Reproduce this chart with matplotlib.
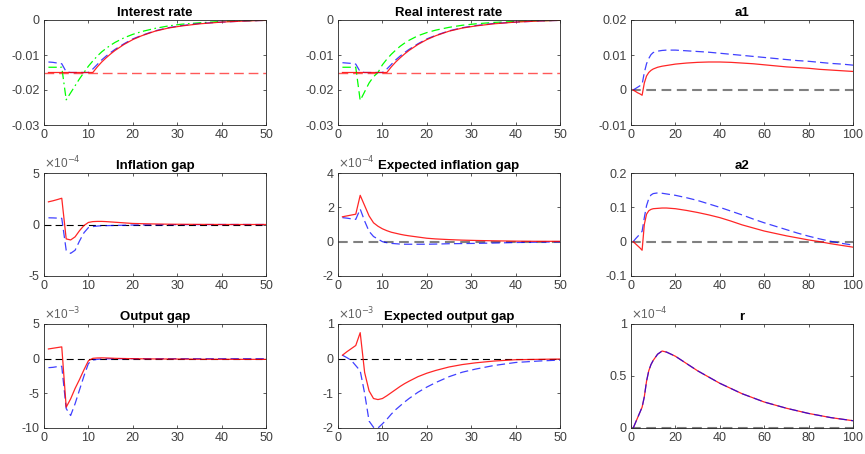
import matplotlib
matplotlib.use("Agg")
import matplotlib.pyplot as plt
import numpy as np

plt.rcParams['font.family'] = ['Liberation Sans', 'DejaVu Sans']
plt.rcParams['axes.unicode_minus'] = False
plt.rcParams['lines.scale_dashes'] = False

# horizon points for the 50-period panels
t50 = [1, 2, 3, 4, 5, 6, 7, 8, 9, 10, 11, 12, 13, 14, 15, 16, 18, 20, 22, 25, 28, 31, 35, 40, 45, 50]
# horizon points for the 100-period panels
t100 = [1, 2, 3, 4, 5, 6, 7, 8, 9, 10, 12, 14, 16, 18, 20, 25, 30, 35, 40, 45, 50, 55, 60, 65, 70, 75, 80, 85, 90, 95, 100]

zlb = -0.015

# Interest rate
ir_red = [-0.015, -0.015, -0.015, -0.015, -0.015, -0.015, -0.015, -0.015, -0.015, -0.015, -0.015,
          -0.0134, -0.0120, -0.0108, -0.0097, -0.0087, -0.0070, -0.0056, -0.0045, -0.0032, -0.0023,
          -0.0017, -0.0011, -0.0006, -0.0003, -0.0001]
ir_blue = [-0.0120, -0.0121, -0.0123, -0.0125, -0.0148, -0.015, -0.015, -0.015, -0.015, -0.015, -0.0140,
           -0.0127, -0.0114, -0.0103, -0.0093, -0.0084, -0.0068, -0.0054, -0.0044, -0.0031, -0.0022,
           -0.0016, -0.0010, -0.0006, -0.0003, -0.0001]
ir_green = [-0.0135, -0.0135, -0.0135, -0.0135, -0.0228, -0.0208, -0.0188, -0.0168, -0.0150, -0.0132,
            -0.0117, -0.0103, -0.0091, -0.0081, -0.0072, -0.0064, -0.0051, -0.0041, -0.0033, -0.0024,
            -0.0017, -0.0012, -0.0008, -0.0004, -0.0002, -0.0001]

# Real interest rate
rr_red = ir_red
rr_blue = [-0.0122, -0.0123, -0.0124, -0.0126, -0.0148, -0.015, -0.015, -0.015, -0.015, -0.015, -0.0140,
           -0.0127, -0.0114, -0.0103, -0.0093, -0.0084, -0.0068, -0.0054, -0.0044, -0.0031, -0.0022,
           -0.0016, -0.0010, -0.0006, -0.0003, -0.0001]
rr_green = [-0.0135, -0.0135, -0.0135, -0.0135, -0.0230, -0.0205, -0.0180, -0.0162, -0.0150, -0.0128,
            -0.0112, -0.0098, -0.0086, -0.0075, -0.0066, -0.0058, -0.0045, -0.0036, -0.0029, -0.0021,
            -0.0015, -0.0011, -0.0007, -0.0004, -0.0002, -0.0001]

# a1
a1_red = [0.0, -0.0004, -0.0008, -0.0011, -0.0015, 0.0020, 0.0040, 0.0050, 0.0056, 0.0060, 0.0065,
          0.0068, 0.0070, 0.0072, 0.0074, 0.0077, 0.0079, 0.0080, 0.0080, 0.0079, 0.0077, 0.0075,
          0.0072, 0.0069, 0.0066, 0.0064, 0.0062, 0.0059, 0.0057, 0.0055, 0.0053]
a1_blue = [0.0, 0.0004, 0.0008, 0.0012, 0.0016, 0.0050, 0.0075, 0.0090, 0.0101, 0.0107, 0.0111,
           0.0113, 0.0114, 0.0114, 0.0114, 0.0112, 0.0110, 0.0108, 0.0105, 0.0102, 0.0099, 0.0096,
           0.0093, 0.0090, 0.0087, 0.0084, 0.0082, 0.0079, 0.0076, 0.0074, 0.0071]

# a2
a2_red = [0.0, -0.006, -0.012, -0.018, -0.025, 0.050, 0.080, 0.090, 0.094, 0.096, 0.097, 0.098,
          0.098, 0.097, 0.096, 0.091, 0.085, 0.078, 0.070, 0.060, 0.049, 0.040, 0.031, 0.024, 0.017,
          0.011, 0.005, 0.000, -0.006, -0.011, -0.016]
a2_blue = [0.0, 0.008, 0.015, 0.022, 0.030, 0.070, 0.105, 0.125, 0.136, 0.140, 0.142, 0.141, 0.139,
           0.137, 0.135, 0.128, 0.120, 0.110, 0.100, 0.089, 0.078, 0.066, 0.055, 0.045, 0.035, 0.025,
           0.016, 0.008, 0.001, -0.005, -0.010]

# Inflation gap (x 1e-4)
pi_red = [2.20, 2.30, 2.42, 2.55, -1.40, -1.50, -1.20, -0.60, -0.10, 0.20, 0.28, 0.30, 0.30, 0.28,
          0.25, 0.22, 0.16, 0.10, 0.08, 0.05, 0.03, 0.02, 0.01, 0.0, 0.0, 0.0]
pi_blue = [0.65, 0.64, 0.62, 0.60, -2.50, -2.80, -2.50, -1.60, -0.80, -0.30, -0.20, -0.15, -0.12,
           -0.11, -0.10, -0.09, -0.07, -0.05, -0.04, -0.03, -0.02, -0.01, -0.01, 0.0, 0.0, 0.0]

# Expected inflation gap (x 1e-4)
epi_red = [1.45, 1.50, 1.55, 1.60, 2.70, 2.10, 1.50, 1.10, 0.90, 0.75, 0.64, 0.55, 0.49, 0.43, 0.38,
           0.34, 0.27, 0.20, 0.16, 0.12, 0.09, 0.07, 0.05, 0.03, 0.02, 0.02]
epi_blue = [1.40, 1.37, 1.33, 1.30, 1.90, 1.20, 0.60, 0.30, 0.15, 0.00, -0.06, -0.10, -0.12, -0.14,
            -0.15, -0.15, -0.15, -0.15, -0.14, -0.12, -0.11, -0.10, -0.08, -0.05, -0.03, -0.01]

# Output gap (x 1e-3)
y_red = [1.40, 1.50, 1.60, 1.70, -7.00, -5.80, -4.30, -3.00, -1.60, -0.30, 0.05, 0.10, 0.12, 0.10,
         0.08, 0.05, 0.02, 0.0, -0.02, -0.04, -0.05, -0.06, -0.08, -0.09, -0.10, -0.10]
y_blue = [-1.30, -1.25, -1.15, -1.10, -7.20, -8.20, -6.50, -4.50, -2.50, -0.70, -0.20, -0.10, -0.05,
          -0.03, -0.02, -0.01, 0.0, 0.0, 0.0, 0.0, 0.0, 0.0, 0.0, 0.0, 0.0, 0.0]

# Expected output gap (x 1e-3)
ey_red = [0.10, 0.20, 0.29, 0.38, 0.75, -0.40, -0.93, -1.15, -1.18, -1.15, -1.07, -0.98, -0.89,
          -0.80, -0.72, -0.65, -0.52, -0.42, -0.34, -0.24, -0.17, -0.12, -0.07, -0.03, -0.02, -0.01]
ey_blue = [0.10, 0.03, -0.05, -0.20, -0.35, -1.00, -1.80, -1.98, -2.00, -1.88, -1.75, -1.60, -1.47,
           -1.36, -1.25, -1.15, -0.97, -0.82, -0.69, -0.52, -0.39, -0.30, -0.20, -0.11, -0.07, -0.04]

# r (x 1e-4)
r_red = [0.0, 0.05, 0.10, 0.15, 0.20, 0.30, 0.45, 0.55, 0.61, 0.65, 0.71, 0.74, 0.73, 0.71, 0.69,
         0.62, 0.55, 0.49, 0.43, 0.38, 0.33, 0.29, 0.25, 0.22, 0.19, 0.165, 0.14, 0.12, 0.10, 0.085, 0.07]
r_blue = r_red

W, H = 865, 454
fig = plt.figure(figsize=(W / 100, H / 100), dpi=100)

cols = [(44, 266), (338, 560), (631, 853)]
rows = [(20, 125), (173, 276), (324, 428)]

TXT = '#404040'


def make_ax(r, c, xlim, xticks, ylim, yticks, ylabels, title, expo=None):
    x0, x1 = cols[c]
    y0, y1 = rows[r]
    ax = fig.add_axes([x0 / W, 1 - y1 / H, (x1 - x0) / W, (y1 - y0) / H])
    ax.set_xlim(*xlim)
    ax.set_ylim(*ylim)
    ax.set_xticks(xticks)
    ax.set_xticklabels([str(v) for v in xticks])
    ax.set_yticks(yticks)
    ax.set_yticklabels(ylabels)
    ax.tick_params(direction='in', length=2.5, width=0.6, colors=TXT, labelsize=9,
                   top=True, right=True, pad=3)
    for s in ax.spines.values():
        s.set_color('#262626')
        s.set_linewidth(0.6)
    ax.set_title(title, fontsize=9.5, fontweight='bold', pad=3, color='black')
    if expo is not None:
        ax.text(0.0, 1.015, r'$\times$10$^{%d}$' % expo, transform=ax.transAxes,
                fontsize=8.5, color='#606060', ha='left', va='bottom')
    return ax


RED = (1, 0, 0)
BLUE = (0, 0, 1)
GREEN = (0, 1, 0)
LW = 0.9
DASH = (6, 3)

# Interest rate
ax = make_ax(0, 0, (0, 50), [0, 10, 20, 30, 40, 50], (-0.03, 0), [-0.03, -0.02, -0.01, 0],
             ['-0.03', '-0.02', '-0.01', '0'], 'Interest rate')
ax.axhline(zlb, color=(1, 0.35, 0.35), lw=1.0, dashes=(7, 3.5))
ax.plot(t50, ir_green, color=GREEN, lw=LW, dashes=(6, 2.5, 1.2, 2.5))
ax.plot(t50, ir_blue, color=BLUE, lw=LW, dashes=DASH, alpha=0.75)
ax.plot(t50, ir_red, color=RED, lw=LW, alpha=0.85)

# Real interest rate
ax = make_ax(0, 1, (0, 50), [0, 10, 20, 30, 40, 50], (-0.03, 0), [-0.03, -0.02, -0.01, 0],
             ['-0.03', '-0.02', '-0.01', '0'], 'Real interest rate')
ax.axhline(zlb, color=(1, 0.35, 0.35), lw=1.0, dashes=(7, 3.5))
ax.plot(t50, rr_green, color=GREEN, lw=LW, dashes=DASH)
ax.plot(t50, rr_blue, color=BLUE, lw=LW, dashes=DASH, alpha=0.75)
ax.plot(t50, rr_red, color=RED, lw=LW, alpha=0.85)

# a1
ax = make_ax(0, 2, (0, 100), [0, 20, 40, 60, 80, 100], (-0.01, 0.02), [-0.01, 0, 0.01, 0.02],
             ['-0.01', '0', '0.01', '0.02'], 'a1')
ax.axhline(0, color='#808080', lw=1.5, dashes=(7, 4))
ax.plot(t100, a1_blue, color=BLUE, lw=LW, dashes=DASH, alpha=0.75)
ax.plot(t100, a1_red, color=RED, lw=LW, alpha=0.85)

# Inflation gap
ax = make_ax(1, 0, (0, 50), [0, 10, 20, 30, 40, 50], (-5, 5), [-5, 0, 5],
             ['-5', '0', '5'], 'Inflation gap', expo=-4)
ax.axhline(0, color='black', lw=0.8, dashes=(5, 3))
ax.plot(t50, pi_blue, color=BLUE, lw=LW, dashes=DASH, alpha=0.75)
ax.plot(t50, pi_red, color=RED, lw=LW, alpha=0.85)

# Expected inflation gap
ax = make_ax(1, 1, (0, 50), [0, 10, 20, 30, 40, 50], (-2, 4), [-2, 0, 2, 4],
             ['-2', '0', '2', '4'], 'Expected inflation gap', expo=-4)
ax.axhline(0, color='#808080', lw=1.5, dashes=(7, 4))
ax.plot(t50, epi_blue, color=BLUE, lw=LW, dashes=DASH, alpha=0.75)
ax.plot(t50, epi_red, color=RED, lw=LW, alpha=0.85)

# a2
ax = make_ax(1, 2, (0, 100), [0, 20, 40, 60, 80, 100], (-0.1, 0.2), [-0.1, 0, 0.1, 0.2],
             ['-0.1', '0', '0.1', '0.2'], 'a2')
ax.axhline(0, color='#808080', lw=1.5, dashes=(7, 4))
ax.plot(t100, a2_blue, color=BLUE, lw=LW, dashes=DASH, alpha=0.75)
ax.plot(t100, a2_red, color=RED, lw=LW, alpha=0.85)

# Output gap
ax = make_ax(2, 0, (0, 50), [0, 10, 20, 30, 40, 50], (-10, 5), [-10, -5, 0, 5],
             ['-10', '-5', '0', '5'], 'Output gap', expo=-3)
ax.axhline(0, color='black', lw=0.8, dashes=(5, 3))
ax.plot(t50, y_blue, color=BLUE, lw=LW, dashes=DASH, alpha=0.75)
ax.plot(t50, y_red, color=RED, lw=LW, alpha=0.85)

# Expected output gap
ax = make_ax(2, 1, (0, 50), [0, 10, 20, 30, 40, 50], (-2, 1), [-2, -1, 0, 1],
             ['-2', '-1', '0', '1'], 'Expected output gap', expo=-3)
ax.axhline(0, color='black', lw=0.8, dashes=(5, 3))
ax.plot(t50, ey_blue, color=BLUE, lw=LW, dashes=DASH, alpha=0.75)
ax.plot(t50, ey_red, color=RED, lw=LW, alpha=0.85)

# r
ax = make_ax(2, 2, (0, 100), [0, 20, 40, 60, 80, 100], (0, 1), [0, 0.5, 1],
             ['0', '0.5', '1'], 'r', expo=-4)
ax.axhline(0, color='#808080', lw=1.5, dashes=(7, 4), clip_on=False)
ax.plot(t100, r_red, color=RED, lw=LW, alpha=0.85)
ax.plot(t100, r_blue, color=BLUE, lw=LW, dashes=DASH, alpha=0.75)

fig.savefig('out.png', dpi=100)
